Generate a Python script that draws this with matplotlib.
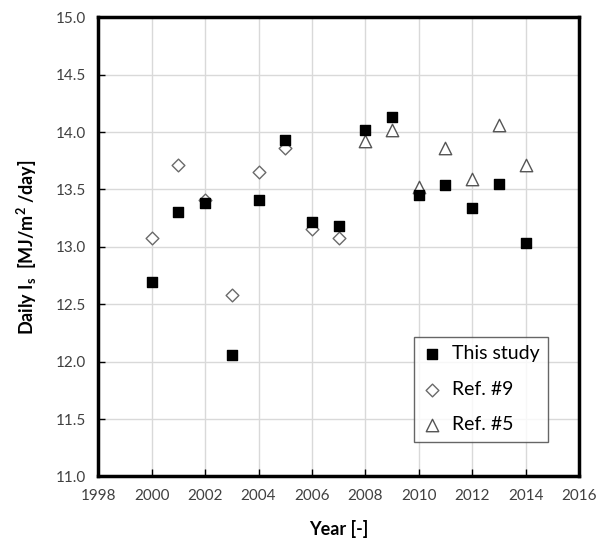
import matplotlib.pyplot as plt

# data
years_study = [2000, 2001, 2002, 2003, 2004, 2005, 2006, 2007,
               2008, 2009, 2010, 2011, 2012, 2013, 2014]
is_study = [12.69, 13.30, 13.38, 12.06, 13.41, 13.93, 13.22, 13.18,
            14.02, 14.13, 13.45, 13.54, 13.34, 13.55, 13.03]

years_ref9 = [2000, 2001, 2002, 2003, 2004, 2005, 2006, 2007]
is_ref9 = [13.08, 13.71, 13.41, 12.58, 13.65, 13.86, 13.16, 13.08]

years_ref5 = [2008, 2009, 2010, 2011, 2012, 2013, 2014]
is_ref5 = [13.92, 14.02, 13.52, 13.86, 13.59, 14.06, 13.71]

x_ticks = list(range(1998, 2017, 2))
y_ticks = [11.0, 11.5, 12.0, 12.5, 13.0, 13.5, 14.0, 14.5, 15.0]

plt.rcParams['font.family'] = ['Lato', 'DejaVu Sans']

fig = plt.figure(figsize=(6.12, 5.42), dpi=100)
ax = fig.add_axes([0.1606, 0.121, 0.7855, 0.847])

ax.scatter(years_ref9, is_ref9, marker='D', s=42, facecolor='white',
           edgecolor='#6a6a6a', linewidth=1.0, label='Ref. #9', zorder=3)
ax.scatter(years_ref5, is_ref5, marker='^', s=80, facecolor='white',
           edgecolor='#555555', linewidth=1.0, label='Ref. #5', zorder=3)
ax.scatter(years_study, is_study, marker='s', s=62, color='black',
           label='This study', zorder=4)

ax.set_xlim(1998, 2016)
ax.set_ylim(11.0, 15.0)
ax.set_xticks(x_ticks)
ax.set_yticks(y_ticks)
ax.set_yticklabels([f'{v:.1f}' for v in y_ticks])
ax.grid(True, color='#d9d9d9', linewidth=1.0)
ax.set_axisbelow(True)
ax.tick_params(direction='in', length=5, width=1, colors='black',
               labelcolor='#404040', labelsize=11, pad=9)
for sp in ax.spines.values():
    sp.set_linewidth(2.5)

ax.set_xlabel('Year [-]', fontsize=13, fontweight='bold', labelpad=12)
ax.set_ylabel('Daily I$_\\mathregular{s}$  [MJ/m$^\\mathregular{2}$ /day]',
              fontsize=13, fontweight='bold', labelpad=12)

h, l = ax.get_legend_handles_labels()
order = [2, 0, 1]
leg = ax.legend([h[i] for i in order], [l[i] for i in order],
                loc='lower right', bbox_to_anchor=(0.9355, 0.075),
                fontsize=14, frameon=True, fancybox=False,
                edgecolor='#404040', handletextpad=0.5,
                handlelength=1.0, labelspacing=0.95, borderpad=0.45,
                borderaxespad=0)
leg.get_frame().set_linewidth(1.0)

fig.savefig('out.png', dpi=100)
